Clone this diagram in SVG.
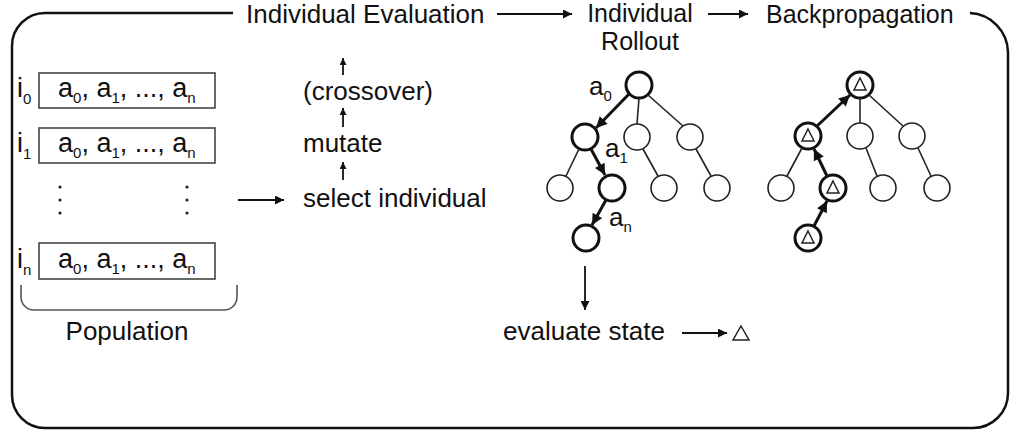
<svg xmlns="http://www.w3.org/2000/svg" width="1022" height="440" viewBox="0 0 1022 440">
<style>
text{font-family:"Liberation Sans",Arial,sans-serif;fill:#111}
.h{font-size:26px}
.bx{font-size:27px}
.s{font-size:15px}
.frame{fill:none;stroke:#111;stroke-width:2.5}
.box{fill:#fff;stroke:#444;stroke-width:1.6}
.ln{stroke:#111;stroke-width:1.8;fill:none}
.thin{stroke:#222;stroke-width:1.6;fill:none}
.thick{stroke:#111;stroke-width:3;fill:none}
.nd{fill:#fff;stroke:#222;stroke-width:1.6}
.ndb{fill:#fff;stroke:#111;stroke-width:3}
.tri{fill:none;stroke:#222;stroke-width:1.5}
</style>
<defs>
<marker id="ah" viewBox="0 0 10 10" refX="10" refY="5" markerWidth="11" markerHeight="9" markerUnits="userSpaceOnUse" orient="auto"><path d="M0,0 L10,5 L0,10 z" fill="#111"/></marker>
<marker id="ahs" viewBox="0 0 10 10" refX="10" refY="5" markerWidth="7" markerHeight="7" markerUnits="userSpaceOnUse" orient="auto"><path d="M0,0 L10,5 L0,10 z" fill="#111"/></marker>
<marker id="aht" viewBox="0 0 10 10" refX="10" refY="5" markerWidth="12" markerHeight="11" markerUnits="userSpaceOnUse" orient="auto"><path d="M0,0 L10,5 L0,10 z" fill="#111"/></marker>
</defs>

<g id="frame">
<path class="frame" d="M233,13 H45 A33,33 0 0 0 12,46 V395 A33,33 0 0 0 45,428 H973 A35,35 0 0 0 1008,393 V52 A40,40 0 0 0 970,13"/>
</g>

<g id="header-eval"><text class="h" x="246" y="23">Individual Evaluation</text></g>
<g id="header-rollout"><text x="640" y="22" text-anchor="middle" style="font-size:25px">Individual</text><text x="640" y="50" text-anchor="middle" style="font-size:25px">Rollout</text></g>
<g id="header-backprop"><text x="766" y="23" style="font-size:25px">Backpropagation</text></g>

<g id="population">
<text class="bx" x="17" y="97">i<tspan class="s" dy="7">0</tspan></text>
<rect class="box" x="39" y="73" width="176" height="35"/>
<text class="bx" x="58" y="97">a<tspan class="s" dy="6">0</tspan><tspan dy="-6">, a</tspan><tspan class="s" dy="6">1</tspan><tspan dy="-6">, ..., a</tspan><tspan class="s" dy="6">n</tspan></text>
<text class="bx" x="17" y="152">i<tspan class="s" dy="7">1</tspan></text>
<rect class="box" x="39" y="128" width="176" height="35"/>
<text class="bx" x="58" y="152">a<tspan class="s" dy="6">0</tspan><tspan dy="-6">, a</tspan><tspan class="s" dy="6">1</tspan><tspan dy="-6">, ..., a</tspan><tspan class="s" dy="6">n</tspan></text>
<g fill="#222"><circle cx="60" cy="187" r="1.6"/><circle cx="60" cy="200" r="1.6"/><circle cx="60" cy="213" r="1.6"/><circle cx="187" cy="187" r="1.6"/><circle cx="187" cy="200" r="1.6"/><circle cx="187" cy="213" r="1.6"/></g>
<text class="bx" x="17" y="268">i<tspan class="s" dy="7">n</tspan></text>
<rect class="box" x="39" y="243" width="176" height="36"/>
<text class="bx" x="58" y="268">a<tspan class="s" dy="6">0</tspan><tspan dy="-6">, a</tspan><tspan class="s" dy="6">1</tspan><tspan dy="-6">, ..., a</tspan><tspan class="s" dy="6">n</tspan></text>
<path d="M21,285 V297 A13,13 0 0 0 34,310 H224 A13,13 0 0 0 237,297 V285" fill="none" stroke="#555" stroke-width="1.6"/>
<text class="h" x="127" y="340" text-anchor="middle">Population</text>
</g>

<g id="eval-steps">
<text class="h" x="303" y="100">(crossover)</text>
<text class="h" x="303" y="152">mutate</text>
<text class="h" x="303" y="207">select individual</text>
</g>

<g id="tree-rollout">
<circle class="ndb" cx="639" cy="85" r="13"/>
<circle class="ndb" cx="585" cy="137" r="13"/>
<circle class="nd" cx="637" cy="137" r="13"/>
<circle class="nd" cx="690" cy="137" r="13"/>
<circle class="nd" cx="560" cy="188" r="13"/>
<circle class="ndb" cx="612" cy="188" r="13"/>
<circle class="nd" cx="664" cy="188" r="13"/>
<circle class="nd" cx="717" cy="188" r="13"/>
<circle class="ndb" cx="586" cy="238" r="13"/>
<text class="h" x="589" y="95">a<tspan class="s" dy="6">0</tspan></text>
<text class="h" x="605" y="157">a<tspan class="s" dy="6">1</tspan></text>
<text class="h" x="609" y="226">a<tspan class="s" dy="6">n</tspan></text>
</g>

<g id="tree-backprop">
<circle class="ndb" cx="860" cy="85" r="13"/>
<circle class="ndb" cx="808" cy="136" r="13"/>
<circle class="nd" cx="860" cy="136" r="13"/>
<circle class="nd" cx="912" cy="136" r="13"/>
<circle class="nd" cx="781" cy="188" r="13"/>
<circle class="ndb" cx="833" cy="188" r="13"/>
<circle class="nd" cx="883" cy="188" r="13"/>
<circle class="nd" cx="937" cy="188" r="13"/>
<circle class="ndb" cx="808" cy="238" r="13"/>
<path class="tri" d="M860,78 L866,90 L854,90 Z"/>
<path class="tri" d="M808,129 L814,141 L802,141 Z"/>
<path class="tri" d="M833,181 L839,193 L827,193 Z"/>
<path class="tri" d="M808,231 L814,243 L802,243 Z"/>
</g>

<g id="evaluate">
<text class="h" x="503" y="340">evaluate state</text>
<path class="tri" d="M741,326 L749,340 L733,340 Z"/>
</g>

<g id="connectors">
<line class="ln" x1="497" y1="14" x2="572" y2="14" marker-end="url(#ah)"/>
<line class="ln" x1="708" y1="14" x2="748" y2="14" marker-end="url(#ah)"/>
<line class="ln" x1="238" y1="200" x2="284" y2="200" marker-end="url(#ah)"/>
<line class="ln" x1="343" y1="75" x2="343" y2="58" marker-end="url(#ahs)"/>
<line class="ln" x1="343" y1="127" x2="343" y2="108" marker-end="url(#ahs)"/>
<line class="ln" x1="343" y1="180" x2="343" y2="162" marker-end="url(#ahs)"/>
<line class="ln" x1="585" y1="266" x2="585" y2="310" marker-end="url(#ah)"/>
<line class="ln" x1="682" y1="333" x2="727" y2="333" marker-end="url(#ah)"/>
<line class="thick" x1="629" y1="94" x2="596" y2="128" marker-end="url(#aht)"/>
<line class="thin" x1="639" y1="98" x2="637" y2="124"/>
<line class="thin" x1="648" y1="95" x2="683" y2="126"/>
<line class="thin" x1="579" y1="149" x2="566" y2="176"/>
<line class="thick" x1="591" y1="149" x2="605" y2="175" marker-end="url(#aht)"/>
<line class="thin" x1="643" y1="149" x2="658" y2="176"/>
<line class="thin" x1="696" y1="149" x2="711" y2="176"/>
<line class="thick" x1="606" y1="200" x2="592" y2="225" marker-end="url(#aht)"/>
<line class="thick" x1="817" y1="126" x2="850" y2="95" marker-end="url(#aht)"/>
<line class="thin" x1="860" y1="98" x2="860" y2="123"/>
<line class="thin" x1="869" y1="95" x2="903" y2="126"/>
<line class="thin" x1="802" y1="148" x2="787" y2="176"/>
<line class="thick" x1="827" y1="176" x2="814" y2="149" marker-end="url(#aht)"/>
<line class="thin" x1="866" y1="148" x2="877" y2="176"/>
<line class="thin" x1="918" y1="148" x2="931" y2="176"/>
<line class="thick" x1="814" y1="226" x2="827" y2="201" marker-end="url(#aht)"/>
</g>
</svg>
